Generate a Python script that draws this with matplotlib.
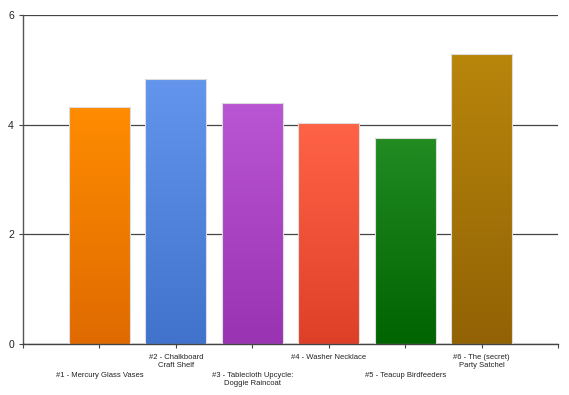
import matplotlib
matplotlib.use("Agg")
import matplotlib.pyplot as plt
import numpy as np
from matplotlib.colors import LinearSegmentedColormap

categories = ["#1 - Mercury Glass Vases", "#2 - Chalkboard\nCraft Shelf",
              "#3 - Tablecloth Upcycle:\nDoggie Raincoat", "#4 - Washer Necklace",
              "#5 - Teacup Birdfeeders", "#6 - The (secret)\nParty Satchel"]
values = [4.33, 4.83, 4.40, 4.03, 3.75, 5.28]
top_colors = ["#FF8C00", "#6495ED", "#BA55D3", "#FF6347", "#228B22", "#B8860B"]
bottom_colors = ["#E06A00", "#4273CC", "#9A33B2", "#DD4027", "#006400", "#926205"]
y_ticks = [0, 2, 4, 6]

plt.rcParams['font.family'] = ['Liberation Sans', 'DejaVu Sans']

fig = plt.figure(figsize=(5.69, 3.95), dpi=100)
ax = fig.add_axes([23/569, 51/395, 535/569, 329/395])

x = np.arange(len(values))
bars = ax.bar(x, values, width=0.8, color="none", edgecolor="#dddddd", linewidth=0.8, zorder=3)
grad = np.linspace(1, 0, 256).reshape(-1, 1)
for b, tc, bc in zip(bars, top_colors, bottom_colors):
    cmap = LinearSegmentedColormap.from_list("g", [bc, tc])
    bx, by = b.get_x(), b.get_y()
    w, h = b.get_width(), b.get_height()
    im = ax.imshow(grad, cmap=cmap, vmin=0, vmax=1, aspect="auto",
                   extent=[bx, bx + w, by, by + h], zorder=2, interpolation="bilinear")
    im.set_clip_path(b)

ax.set_xlim(-1, 6)
ax.set_ylim(0, 6)
ax.set_yticks(y_ticks)
ax.set_yticklabels([str(v) for v in y_ticks], fontsize=7.5, color="#222222")
ax.yaxis.grid(True, color="#444444", linewidth=0.9, zorder=1)
ax.set_axisbelow(True)

ax.set_xticks(list(range(-1, 7)))
ax.set_xticklabels([""] + categories + [""], fontsize=5.5, color="#222222")
for i, t in enumerate(ax.xaxis.get_major_ticks()):
    if i in (1, 3, 5):
        t.set_pad(17)
    else:
        t.set_pad(4.5)

ax.tick_params(axis="both", length=3, width=0.8, color="#444444")
for s in ["top", "right"]:
    ax.spines[s].set_visible(False)
ax.spines["left"].set_color("#555555")
ax.spines["bottom"].set_color("#444444")
ax.spines["left"].set_linewidth(1.0)
ax.spines["bottom"].set_linewidth(1.0)

fig.savefig("out.png", dpi=100)
